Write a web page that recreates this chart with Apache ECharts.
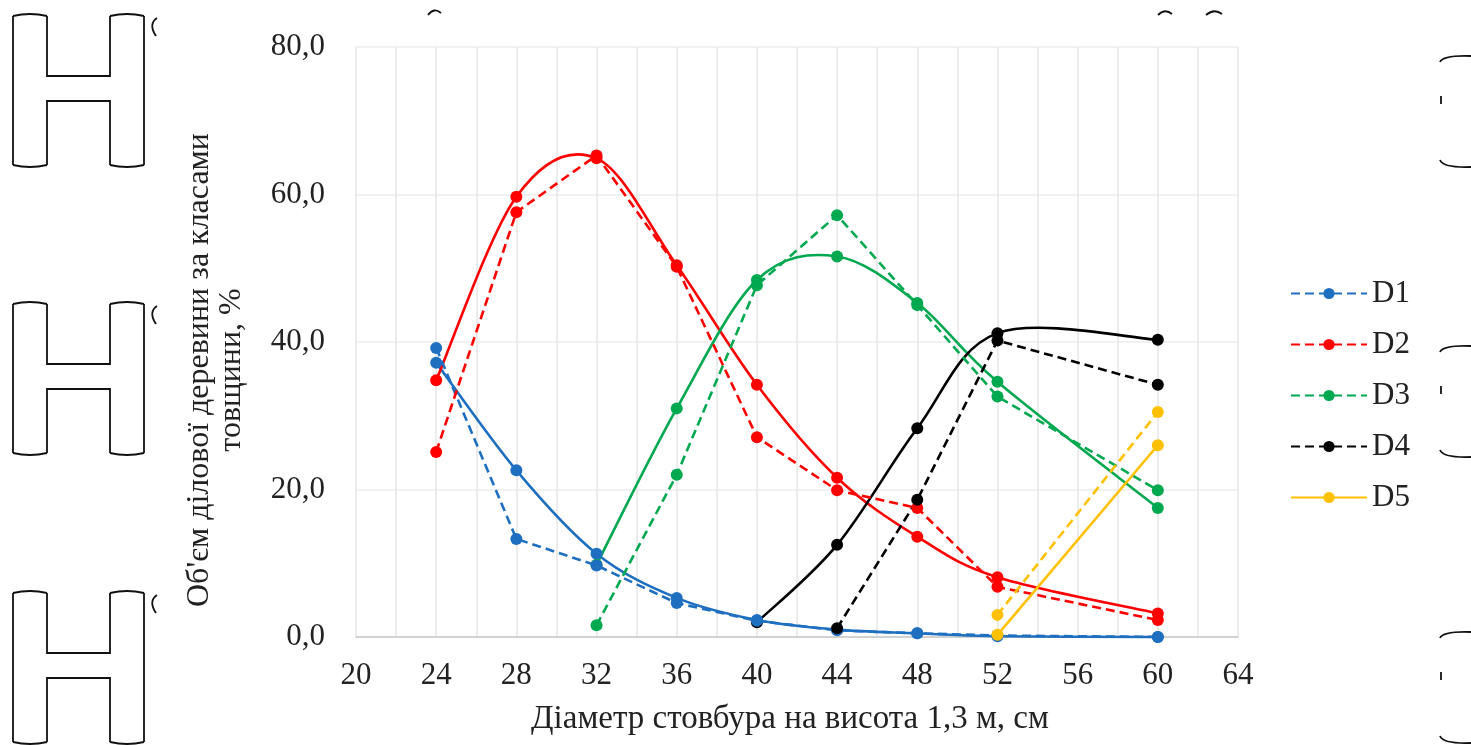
<!DOCTYPE html>
<html>
<head>
<meta charset="utf-8">
<script src="https://cdn.jsdelivr.net/npm/echarts@6/dist/echarts.min.js"></script>
<style>
  html, body { margin: 0; padding: 0; background: #ffffff; }
  #chart { width: 1471px; height: 745px; }
</style>
</head>
<body>
<div id="chart"></div>
<script>
// Діаметр стовбура, см (класи товщини)
const diameters = [24, 28, 32, 36, 40, 44, 48, 52, 60];

// Частка ділової деревини, % — фактичні значення (пунктир) і згладжені (суцільна лінія)
const d1Dashed = [39.2, 13.3, 9.7, 4.6, 2.2, 0.9, 0.5, 0.2, 0.0];
const d1Solid  = [37.2, 22.6, 11.3, 5.3, 2.3, 1.0, 0.5, 0.1, 0.0];
const d2Dashed = [25.1, 57.6, 65.3, 50.2, 27.1, 19.9, 17.5, 6.8, 2.3];
const d2Solid  = [34.8, 59.7, 64.9, 50.4, 34.2, 21.6, 13.6, 8.1, 3.2];
const d3Dashed = [null, null, 1.6, 22.0, 47.7, 57.2, 45.0, 32.6, 19.9];
const d3Solid  = [null, null, 9.8, 31.0, 48.4, 51.6, 45.3, 34.6, 17.5];
const d4Dashed = [null, null, null, null, null, 1.2, 18.6, 40.2, 34.2];
const d4Solid  = [null, null, null, null, 2.0, 12.5, 28.3, 41.2, 40.3];
const d5Dashed = [null, null, null, null, null, null, null, 3.0, 30.5];
const d5Solid  = [null, null, null, null, null, null, null, 0.3, 26.0];

// Осі
const xMin = 20, xMax = 64, xStep = 4;
const yMin = 0, yMax = 80, yStep = 20;
const legendNames = ['D1', 'D2', 'D3', 'D4', 'D5'];

const colors = { D1: '#1f6fc0', D2: '#ff0000', D3: '#00a850', D4: '#000000', D5: '#ffc000' };
const serif = '"Liberation Serif", "DejaVu Serif", serif';
const textColor = '#222222';
const markerSize = 12;
const lineWidth = 2.6;

function pairs(values) {
  const out = [];
  values.forEach((v, i) => { if (v !== null) out.push([diameters[i], v]); });
  return out;
}

// Ламана з маркерами (пунктир або пряма)
function lineSeries(name, color, values, dashed) {
  return {
    name: name,
    type: 'line',
    data: pairs(values),
    smooth: false,
    symbol: 'circle',
    symbolSize: markerSize,
    showSymbol: true,
    itemStyle: { color: color },
    lineStyle: { color: color, width: lineWidth, type: dashed ? [9, 5] : 'solid' },
    emphasis: { disabled: true },
    animation: false
  };
}

// Згладжена крива (кубічні сплайни Катмулла–Рома через точки) з маркерами
function smoothSeries(name, color, values) {
  const pts = pairs(values);
  return {
    name: name,
    type: 'custom',
    data: pts,
    encode: { x: 0, y: 1 },
    renderItem: function (params, api) {
      const i = params.dataIndex;
      const n = pts.length;
      const P = k => api.coord(pts[Math.max(0, Math.min(n - 1, k))]);
      const p0 = P(i - 1), p1 = P(i), p2 = P(i + 1), p3 = P(i + 2);
      const children = [];
      if (i < n - 1) {
        children.push({
          type: 'bezierCurve',
          shape: {
            x1: p1[0], y1: p1[1],
            cpx1: p1[0] + (p2[0] - p0[0]) / 6, cpy1: p1[1] + (p2[1] - p0[1]) / 6,
            cpx2: p2[0] - (p3[0] - p1[0]) / 6, cpy2: p2[1] - (p3[1] - p1[1]) / 6,
            x2: p2[0], y2: p2[1]
          },
          style: { stroke: color, lineWidth: lineWidth, fill: null }
        });
      }
      children.push({
        type: 'circle',
        shape: { cx: p1[0], cy: p1[1], r: markerSize / 2 },
        style: { fill: color },
        z2: 10
      });
      return { type: 'group', children: children };
    },
    emphasis: { disabled: true },
    animation: false
  };
}

const series = [
  lineSeries('D1', colors.D1, d1Dashed, true),
  smoothSeries('D1 згладжена', colors.D1, d1Solid),
  lineSeries('D2', colors.D2, d2Dashed, true),
  smoothSeries('D2 згладжена', colors.D2, d2Solid),
  lineSeries('D3', colors.D3, d3Dashed, true),
  smoothSeries('D3 згладжена', colors.D3, d3Solid),
  lineSeries('D4', colors.D4, d4Dashed, true),
  smoothSeries('D4 згладжена', colors.D4, d4Solid),
  lineSeries('D5 фактична', colors.D5, d5Dashed, true),
  lineSeries('D5', colors.D5, d5Solid, false)
];

// Контурні фігури по краях аркуша
const outline = () => ({ stroke: '#111', lineWidth: 1.8, fill: null });
function poly(points) { return { type: 'polyline', shape: { points: points }, style: outline(), silent: true }; }
function curve(x1, y1, cx, cy, x2, y2) {
  return { type: 'bezierCurve', shape: { x1: x1, y1: y1, cpx1: cx, cpy1: cy, x2: x2, y2: y2 }, style: outline(), silent: true };
}
function hShape(dy) {
  return {
    type: 'group', x: 0, y: dy, silent: true,
    children: [
      poly([[47, 16], [47, 76], [110, 76], [110, 16]]),
      poly([[144, 16], [144, 165]]),
      poly([[110, 165], [110, 101], [47, 101], [47, 165]]),
      poly([[13, 165], [13, 16]]),
      curve(13, 16, 30, 12, 47, 16),
      curve(110, 16, 127, 12, 144, 16),
      curve(144, 165, 127, 169, 110, 165),
      curve(47, 165, 30, 169, 13, 165),
      curve(157, 18, 148, 24, 156, 36)
    ]
  };
}
function bracket(dy) {
  return {
    type: 'group', x: 0, y: dy, silent: true,
    children: [
      curve(1440, 62, 1443, 55, 1471, 56),
      poly([[1441, 96], [1441, 104]]),
      curve(1440, 160, 1443, 168, 1471, 167)
    ]
  };
}
const graphics = [hShape(0), hShape(288), hShape(577), bracket(0), bracket(290), bracket(576),
  curve(428, 15, 434, 7, 441, 13), curve(1158, 15, 1165, 8, 1172, 14), curve(1206, 15, 1214, 8, 1222, 14)];

// Назва осі Y (два рядки)
graphics.push({
  type: 'text',
  x: 216, y: 370,
  rotation: Math.PI / 2,
  style: {
    text: "Об'єм ділової деревини за класами\nтовщини, %",
    font: '32px ' + serif,
    fill: textColor,
    textAlign: 'center',
    textVerticalAlign: 'middle',
    lineHeight: 32
  },
  silent: true
});

const chart = echarts.init(document.getElementById('chart'), null, { renderer: 'canvas' });
chart.setOption({
  backgroundColor: '#ffffff',
  animation: false,
  grid: { left: 356, right: 233, top: 47, bottom: 108, containLabel: false },
  xAxis: {
    type: 'value',
    min: xMin, max: xMax, interval: xStep,
    name: 'Діаметр стовбура на висота 1,3 м, см',
    nameLocation: 'middle',
    nameGap: 66,
    nameTextStyle: { fontFamily: serif, fontSize: 33, color: textColor, padding: [0, 14, 0, 0] },
    axisLine: { show: true, lineStyle: { color: '#c8c8c8', width: 1.5 } },
    axisTick: { show: false },
    axisLabel: { fontFamily: serif, fontSize: 31, color: textColor, margin: 23 },
    splitLine: { show: true, lineStyle: { color: '#e6e6e6', width: 1.5 } },
    minorTick: { show: false, splitNumber: 2 },
    minorSplitLine: { show: true, lineStyle: { color: '#e6e6e6', width: 1.5 } }
  },
  yAxis: {
    type: 'value',
    min: yMin, max: yMax, interval: yStep,
    axisLine: { show: false },
    axisTick: { show: false },
    axisLabel: {
      fontFamily: serif, fontSize: 31, color: textColor, margin: 31,
      formatter: v => v.toFixed(1).replace('.', ',')
    },
    splitLine: { show: true, lineStyle: { color: '#ececec', width: 1.5 } }
  },
  legend: {
    data: legendNames,
    orient: 'vertical',
    left: 1290,
    top: 278,
    padding: 0,
    itemWidth: 76,
    itemHeight: 14,
    itemGap: 20,
    textStyle: { fontFamily: serif, fontSize: 31, lineHeight: 30, color: textColor },
    selectedMode: false
  },
  graphic: graphics,
  series: series
});
</script>
</body>
</html>
